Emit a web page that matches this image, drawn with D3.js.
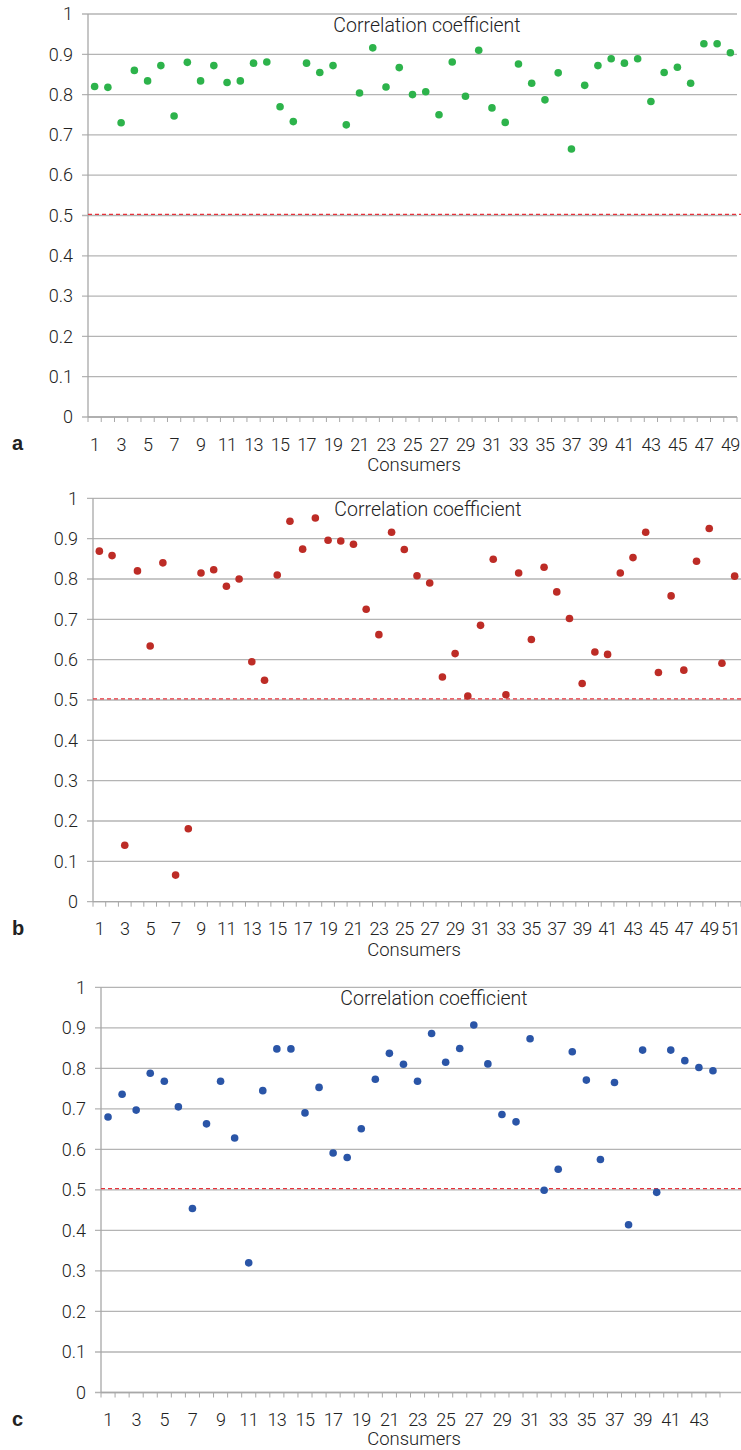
<!DOCTYPE html>
<meta charset="utf-8">
<script src="https://d3js.org/d3.v7.min.js"></script>
<style>
body { margin: 0; background: #fff; }
text { fill: #222; }
.ylab text { font: 300 18px Roboto, "Liberation Sans", sans-serif; }
.xlab text { font: 300 18px Roboto, "Liberation Sans", sans-serif; letter-spacing: -0.6px; }
.title { font: 300 19.5px Roboto, "Liberation Sans", sans-serif; }
.xtitle { font: 300 18.5px Roboto, "Liberation Sans", sans-serif; }
.letter { font: bold 20px "Liberation Sans", sans-serif; }
</style>
<div id="chart"></div>
<script>

// correlation coefficient per consumer
var corrA = [0.820, 0.818, 0.730, 0.860, 0.834, 0.872, 0.747, 0.880, 0.834, 0.872,
             0.830, 0.834, 0.878, 0.881, 0.770, 0.733, 0.878, 0.855, 0.872, 0.725,
             0.804, 0.916, 0.819, 0.867, 0.800, 0.807, 0.750, 0.881, 0.796, 0.910,
             0.767, 0.731, 0.876, 0.828, 0.787, 0.854, 0.665, 0.823, 0.872, 0.889,
             0.878, 0.889, 0.783, 0.855, 0.868, 0.828, 0.926, 0.926, 0.904];

var corrB = [0.869, 0.858, 0.140, 0.820, 0.634, 0.840, 0.066, 0.181, 0.815, 0.823,
             0.782, 0.800, 0.595, 0.549, 0.810, 0.943, 0.874, 0.951, 0.896, 0.894,
             0.886, 0.725, 0.662, 0.916, 0.873, 0.808, 0.790, 0.557, 0.615, 0.510,
             0.685, 0.849, 0.513, 0.815, 0.650, 0.829, 0.768, 0.702, 0.541, 0.619,
             0.613, 0.815, 0.853, 0.916, 0.568, 0.758, 0.574, 0.844, 0.925, 0.591,
             0.807];

var corrC = [0.680, 0.736, 0.697, 0.788, 0.768, 0.705, 0.454, 0.663, 0.768, 0.628,
             0.320, 0.745, 0.848, 0.848, 0.690, 0.753, 0.591, 0.580, 0.651, 0.773,
             0.837, 0.810, 0.768, 0.886, 0.815, 0.849, 0.907, 0.811, 0.686, 0.668,
             0.873, 0.499, 0.551, 0.841, 0.771, 0.575, 0.765, 0.414, 0.845, 0.494,
             0.845, 0.819, 0.802, 0.794];

var yTicks = [0, 0.1, 0.2, 0.3, 0.4, 0.5, 0.6, 0.7, 0.8, 0.9, 1];
var threshold = 0.503;

var chartTitle = "Correlation coefficient";
var xTitle = "Consumers";

var panels = [
  {letter: "a", values: corrA, color: "#2db34b", top: 14, bottom: 417, left: 88, right: 737, gridRight: 737, titleX: 427},
  {letter: "b", values: corrB, color: "#bd2c26", top: 498.3, bottom: 901.7, left: 93, right: 741, gridRight: 741, titleX: 428},
  {letter: "c", values: corrC, color: "#2a55a7", top: 987.3, bottom: 1392.5, left: 101, right: 720, gridRight: 741, titleX: 434}
];

var W = 741, H = 1450;

var svg = d3.select("#chart")
  .append("svg")
    .attr("width", W)
    .attr("height", H);

panels.forEach(function(p) {

  var consumers = d3.range(1, p.values.length + 1);

  var x = d3.scaleBand()
    .domain(consumers)
    .range([p.left, p.right]);

  var y = d3.scaleLinear()
    .domain([0, 1])
    .range([p.bottom, p.top]);

  var g = svg.append("g");

  // horizontal grid lines (they also poke out left of the axis as ticks)
  g.selectAll(".grid")
    .data(yTicks)
    .enter()
    .append("line")
      .attr("x1", p.left - 6)
      .attr("x2", p.gridRight)
      .attr("y1", function(d) { return y(d); })
      .attr("y2", function(d) { return y(d); })
      .style("stroke", "#b4b4b4")
      .style("stroke-width", 1.3);

  // Y axis labels
  var yAxis = g.append("g")
    .attr("class", "ylab")
    .attr("transform", "translate(" + p.left + ",0)")
    .call(d3.axisLeft(y).tickValues(yTicks).tickSize(6).tickPadding(9).tickFormat(d3.format("")));
  yAxis.select(".domain").remove();
  yAxis.selectAll("line").remove();

  // vertical axis line
  g.append("line")
    .attr("x1", p.left).attr("x2", p.left)
    .attr("y1", y(1)).attr("y2", y(0))
    .style("stroke", "#a8a8a8")
    .style("stroke-width", 1.3);

  // X axis: labels on odd consumers, ticks between bands
  var xAxis = g.append("g")
    .attr("class", "xlab")
    .attr("transform", "translate(0," + p.bottom + ")")
    .call(d3.axisBottom(x)
      .tickValues(consumers.filter(function(d) { return d % 2 == 1; }))
      .tickSize(0).tickPadding(21));
  xAxis.select(".domain").remove();

  // keep the last label inside the picture
  xAxis.selectAll("text").each(function() {
    var b = this.getBBox();
    var tx = +this.parentNode.getAttribute("transform").match(/translate\(([-\d.]+)/)[1];
    var over = tx + b.x + b.width - (W - 1);
    if (over > 0) d3.select(this).attr("dx", -over);
  });

  g.selectAll(".xtick")
    .data(consumers.concat([null]))
    .enter()
    .append("line")
      .attr("x1", function(d) { return d == null ? p.right : x(d); })
      .attr("x2", function(d) { return d == null ? p.right : x(d); })
      .attr("y1", p.bottom)
      .attr("y2", p.bottom + 5)
      .style("stroke", "#a8a8a8")
      .style("stroke-width", 1);

  g.append("line")
    .attr("x1", p.left).attr("x2", p.right)
    .attr("y1", p.bottom).attr("y2", p.bottom)
    .style("stroke", "#a8a8a8")
    .style("stroke-width", 1.3);

  // threshold line
  g.append("line")
    .attr("x1", p.left)
    .attr("x2", W)
    .attr("y1", y(threshold))
    .attr("y2", y(threshold))
    .style("stroke", "#e6333b")
    .style("stroke-width", 1.2)
    .style("stroke-dasharray", "4,3");

  // the dots
  g.selectAll(".dot")
    .data(p.values)
    .enter()
    .append("circle")
      .attr("cx", function(d, i) { return x(consumers[i]) + x.bandwidth() / 2; })
      .attr("cy", function(d) { return y(d); })
      .attr("r", 3.8)
      .style("fill", p.color);

  g.append("text")
    .attr("class", "title")
    .attr("x", p.titleX)
    .attr("y", p.top + 18)
    .attr("text-anchor", "middle")
    .text(chartTitle);

  g.append("text")
    .attr("class", "xtitle")
    .attr("x", 414)
    .attr("y", Math.min(p.bottom + 54, H - 5))
    .attr("text-anchor", "middle")
    .text(xTitle);

  g.append("text")
    .attr("class", "letter")
    .attr("x", 12)
    .attr("y", p.bottom + 33)
    .text(p.letter);
});

</script>
